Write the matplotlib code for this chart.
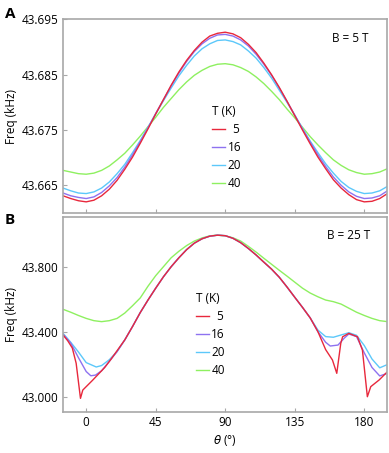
import numpy as np
import matplotlib.pyplot as plt

plt.rcParams['font.family'] = ['Open Sans', 'DejaVu Sans']

temps = ["  5", "16", "20", "40"]
colors = ["#e8283c", "#8e72f0", "#5cc8fa", "#8ef060"]

# panel A, B = 5 T
theta_a = [-15, -10, -5, 0, 5, 10, 15, 20, 25, 30, 35, 40, 45, 50, 55, 60, 65, 70, 75,
           80, 85, 90, 95, 100, 105, 110, 115, 120, 125, 130, 135, 140, 145, 150, 155,
           160, 165, 170, 175, 180, 185, 190, 195]
freq_a_5 = [43.6631, 43.6626, 43.6622, 43.6620, 43.6623, 43.6631, 43.6643, 43.6659, 43.6679,
            43.6701, 43.6726, 43.6752, 43.6779, 43.6805, 43.6831, 43.6855, 43.6876, 43.6894,
            43.6909, 43.6920, 43.6925, 43.6927, 43.6924, 43.6917, 43.6905, 43.6890, 43.6871,
            43.6850, 43.6827, 43.6802, 43.6776, 43.6750, 43.6725, 43.6701, 43.6680, 43.6660,
            43.6645, 43.6633, 43.6624, 43.6620, 43.6621, 43.6626, 43.6635]
freq_a_16 = [43.6636, 43.6631, 43.6628, 43.6626, 43.6629, 43.6637, 43.6649, 43.6664, 43.6683,
             43.6705, 43.6729, 43.6754, 43.6780, 43.6805, 43.6830, 43.6853, 43.6874, 43.6892,
             43.6906, 43.6916, 43.6922, 43.6923, 43.6920, 43.6913, 43.6902, 43.6887, 43.6869,
             43.6849, 43.6826, 43.6802, 43.6777, 43.6752, 43.6728, 43.6705, 43.6684, 43.6665,
             43.6650, 43.6638, 43.6630, 43.6626, 43.6627, 43.6631, 43.6640]
freq_a_20 = [43.6645, 43.6640, 43.6636, 43.6635, 43.6638, 43.6645, 43.6656, 43.6671, 43.6688,
             43.6709, 43.6731, 43.6755, 43.6779, 43.6803, 43.6826, 43.6848, 43.6867, 43.6884,
             43.6897, 43.6906, 43.6912, 43.6913, 43.6910, 43.6904, 43.6893, 43.6880, 43.6863,
             43.6844, 43.6822, 43.6800, 43.6777, 43.6753, 43.6730, 43.6709, 43.6689, 43.6672,
             43.6657, 43.6646, 43.6639, 43.6635, 43.6636, 43.6640, 43.6648]
freq_a_40 = [43.6677, 43.6674, 43.6671, 43.6670, 43.6672, 43.6677, 43.6685, 43.6696, 43.6708,
             43.6723, 43.6739, 43.6756, 43.6773, 43.6791, 43.6807, 43.6823, 43.6837, 43.6849,
             43.6858, 43.6865, 43.6869, 43.6870, 43.6868, 43.6863, 43.6856, 43.6846, 43.6834,
             43.6820, 43.6805, 43.6788, 43.6772, 43.6755, 43.6738, 43.6723, 43.6709, 43.6696,
             43.6686, 43.6678, 43.6673, 43.6670, 43.6671, 43.6674, 43.6680]

# panel B, B = 25 T (shared middle part)
theta_mid = [20, 25, 30, 35, 40, 45, 50, 55, 60, 65, 70, 75, 80, 85, 90, 95, 100, 105,
             110, 115, 120, 125, 130, 135, 140, 145]
freq_mid = [43.278, 43.350, 43.432, 43.518, 43.595, 43.668, 43.738, 43.800, 43.855, 43.905,
            43.945, 43.972, 43.988, 43.994, 43.991, 43.975, 43.948, 43.912, 43.872, 43.828,
            43.785, 43.735, 43.675, 43.612, 43.550, 43.485]

theta_b_5 = ([-15, -12, -9, -6.5, -3.7, -2.2, 0, 4, 8, 12, 16] + theta_mid[1:]
             + [150, 155, 159.4, 162.2, 164.8, 166, 170, 175.6, 178.8, 182, 184.2, 189.6, 195])
freq_b_5 = ([43.380, 43.345, 43.300, 43.206, 42.990, 43.041, 43.062, 43.100, 43.140, 43.180,
             43.230] + freq_mid[1:]
            + [43.400, 43.290, 43.226, 43.144, 43.329, 43.369, 43.390, 43.369, 43.287, 43.000,
               43.062, 43.103, 43.154])
theta_b_16 = ([-15, -10, -5, 0, 3, 6, 10, 15] + theta_mid
              + [150, 155, 158, 163, 167, 170, 175, 180, 185, 190, 195])
freq_b_16 = ([43.385, 43.330, 43.240, 43.155, 43.129, 43.133, 43.160, 43.218] + freq_mid
             + [43.400, 43.335, 43.312, 43.318, 43.360, 43.386, 43.370, 43.270, 43.180,
                43.128, 43.144])
theta_b_20 = ([-15, -10, -5, 0, 6.5, 10, 15] + theta_mid
              + [150, 155, 160, 165, 170, 175, 180, 185, 190, 195])
freq_b_20 = ([43.390, 43.335, 43.275, 43.210, 43.183, 43.192, 43.228] + freq_mid
             + [43.410, 43.370, 43.366, 43.380, 43.394, 43.378, 43.315, 43.232, 43.178,
                43.198])
theta_b_40 = theta_a
freq_b_40 = [43.538, 43.520, 43.500, 43.482, 43.468, 43.462, 43.468, 43.482, 43.515, 43.560,
             43.608, 43.680, 43.745, 43.800, 43.855, 43.895, 43.930, 43.958, 43.977, 43.990,
             43.994, 43.990, 43.978, 43.958, 43.925, 43.890, 43.852, 43.815, 43.778, 43.742,
             43.705, 43.668, 43.638, 43.615, 43.595, 43.585, 43.570, 43.545, 43.520, 43.500,
             43.482, 43.468, 43.462]

fig = plt.figure(figsize=(3.89, 4.53), dpi=100)
ax_a = fig.add_axes([0.162, 0.530, 0.834, 0.427])
ax_b = fig.add_axes([0.162, 0.0905, 0.834, 0.4305])

series_a = [(theta_a, freq_a_5), (theta_a, freq_a_16), (theta_a, freq_a_20), (theta_a, freq_a_40)]
series_b = [(theta_b_5, freq_b_5), (theta_b_16, freq_b_16), (theta_b_20, freq_b_20),
            (theta_b_40, freq_b_40)]

# draw green first so the colder curves sit on top
for ax, series in [(ax_a, series_a), (ax_b, series_b)]:
    for i in [3, 2, 1, 0]:
        ax.plot(series[i][0], series[i][1], color=colors[i], lw=1.0, label=temps[i])
    ax.set_xlim(-15, 195)
    ax.set_xticks([0, 45, 90, 135, 180])
    ax.set_ylabel("Freq (kHz)", fontsize=8.5, labelpad=3)
    for s in ax.spines.values():
        s.set_color("#a8a8a8")
        s.set_linewidth(1.2)
    ax.tick_params(direction="in", length=3, color="#a8a8a8", labelsize=8.5, pad=3)
    handles, labels = ax.get_legend_handles_labels()
    leg = ax.legend(handles[::-1], labels[::-1], title="T (K)", frameon=False,
                    fontsize=8.5, title_fontsize=8.5, handlelength=1.1, handletextpad=0.2,
                    labelspacing=0.42, loc="upper left", borderaxespad=0)
    leg._legend_box.align = "left"

ax_a.set_ylim(43.660, 43.695)
ax_a.set_yticks([43.665, 43.675, 43.685, 43.695])
ax_a.set_yticklabels(["43.665", "43.675", "43.685", "43.695"])
ax_a.tick_params(axis="x", labelbottom=False)
ax_a.get_legend().set_bbox_to_anchor((0.445, 0.58))
ax_a.text(0.885, 0.9, "B = 5 T", transform=ax_a.transAxes, ha="center", va="center", fontsize=8.5)

ax_b.set_ylim(42.906, 44.106)
ax_b.set_yticks([43.0, 43.4, 43.8])
ax_b.set_yticklabels(["43.000", "43.400", "43.800"])
ax_b.set_xlabel(r"$\it{\theta}$ (°)", fontsize=8.5, labelpad=3)
ax_b.get_legend().set_bbox_to_anchor((0.395, 0.64))
ax_b.text(0.88, 0.905, "B = 25 T", transform=ax_b.transAxes, ha="center", va="center", fontsize=8.5)

fig.text(0.012, 0.97, "A", fontsize=11, fontweight="bold", va="center")
fig.text(0.012, 0.515, "B", fontsize=11, fontweight="bold", va="center")

fig.savefig("out.png", dpi=100)
